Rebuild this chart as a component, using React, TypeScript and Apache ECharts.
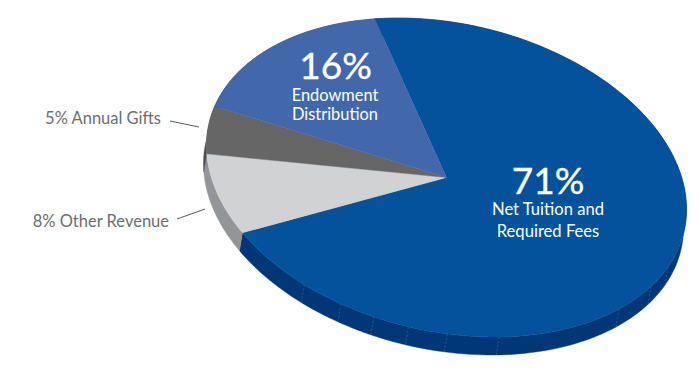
import React, { useEffect, useRef } from "react";
import * as echarts from "echarts";

// Data
const sliceNames = ["Net Tuition and Required Fees", "Other Revenue", "Annual Gifts", "Endowment Distribution"];
const sliceValues = [71, 8, 5, 16];
const topColors = ["#03529b", "#d1d2d4", "#666666", "#4267ab"];
const sideColors = ["#013777", "#939598", "#4d4d4f", "#2f4d85"];
const seamAngles = [14.6, 23.5, 35.9, 69.2, 81.7, 91, 99.5, 108, 118.2];

// Layout of the tilted disc
const CX = 446.5;
const CY = 177.5;
const A = 243.6;
const B = 154;
const TILT = (12.7 * Math.PI) / 180;
const START_DEG = -115.5;
const DEPTH_X = -3;
const DEPTH_Y = 18;

const FONT = "Lato";

function rim(deg: number, dx = 0, dy = 0): number[] {
  const t = (deg * Math.PI) / 180;
  const u = A * Math.cos(t);
  const v = B * Math.sin(t);
  return [CX + u * Math.cos(TILT) - v * Math.sin(TILT) + dx, CY + u * Math.sin(TILT) + v * Math.cos(TILT) + dy];
}

function sliceRange(index: number): number[] {
  const total = sliceValues.reduce((s, v) => s + v, 0);
  const before = sliceValues.slice(0, index).reduce((s, v) => s + v, 0);
  const start = START_DEG + (before / total) * 360;
  return [start, start + (sliceValues[index] / total) * 360];
}

function arcPoints(from: number, to: number, dx = 0, dy = 0): number[][] {
  const pts: number[][] = [];
  const n = Math.max(4, Math.ceil((to - from) / 1.5));
  for (let i = 0; i <= n; i++) pts.push(rim(from + ((to - from) * i) / n, dx, dy));
  return pts;
}

function renderTop(params: any) {
  const [s, e] = sliceRange(params.dataIndex);
  return {
    type: "polygon",
    silent: true,
    shape: { points: [[CX, CY], ...arcPoints(s, e)] },
    style: { fill: topColors[params.dataIndex], stroke: topColors[params.dataIndex], lineWidth: 0.4 },
  };
}

function renderSide(params: any) {
  const [s, e] = sliceRange(params.dataIndex);
  return {
    type: "polygon",
    silent: true,
    shape: { points: [...arcPoints(s, e), ...arcPoints(s, e, DEPTH_X, DEPTH_Y).reverse()] },
    style: { fill: sideColors[params.dataIndex], stroke: sideColors[params.dataIndex], lineWidth: 0.4 },
  };
}

function renderSeam(params: any, api: any) {
  const a = rim(api.value(0));
  const b = rim(api.value(0), DEPTH_X, DEPTH_Y);
  return {
    type: "line",
    silent: true,
    shape: { x1: a[0], y1: a[1], x2: b[0], y2: b[1] },
    style: { stroke: "#3f6296", lineWidth: 0.7, lineDash: [2, 2] },
  };
}

function label(text: string, x: number, y: number, size: number, fill: string, align = "center", heavy = 0) {
  return {
    type: "text",
    silent: true,
    z: 20,
    x,
    y,
    style: {
      text,
      fill,
      font: `400 ${size}px ${FONT}`,
      textAlign: align,
      textVerticalAlign: "middle",
      stroke: heavy ? fill : undefined,
      lineWidth: heavy,
    },
  };
}

function leader(x1: number, y1: number, x2: number, y2: number) {
  return { type: "line", silent: true, z: 20, shape: { x1, y1, x2, y2 }, style: { stroke: "#58595b", lineWidth: 1 } };
}

export default function App() {
  const ref = useRef<HTMLDivElement>(null);
  useEffect(() => {
    const chart = echarts.init(ref.current!, undefined, { renderer: "svg" });
    const data = sliceValues.map((value, i) => ({ name: sliceNames[i], value }));
    chart.setOption({
      animation: false,
      backgroundColor: "#ffffff",
      series: [
        { type: "custom", coordinateSystem: "none", z: 1, data, renderItem: renderSide },
        { type: "custom", coordinateSystem: "none", z: 2, data: seamAngles, renderItem: renderSeam },
        { type: "custom", coordinateSystem: "none", z: 3, data, renderItem: renderTop },
      ],
      graphic: [
        label(`${sliceValues[0]}%`, 548, 179.5, 37, "#ffffff", "center", 0.35),
        label("Net Tuition and", 548, 209, 16.6, "#ffffff"),
        label("Required Fees", 548, 231, 16.6, "#ffffff"),
        label(`${sliceValues[3]}%`, 335.5, 64.5, 37, "#ffffff", "center", 0.35),
        label("Endowment", 335, 94.5, 16.4, "#ffffff"),
        label("Distribution", 335, 113, 16.4, "#ffffff"),
        label(`${sliceValues[2]}% Annual Gifts`, 161, 118, 16.5, "#6d6e71", "right"),
        label(`${sliceValues[1]}% Other Revenue`, 169, 221, 16.5, "#6d6e71", "right"),
        leader(170, 121, 199, 127),
        leader(177, 219, 205, 209),
      ],
    });
    return () => chart.dispose();
  }, []);
  return <div ref={ref} style={{ position: "absolute", left: 0, top: 0, width: 699, height: 377 }} />;
}
